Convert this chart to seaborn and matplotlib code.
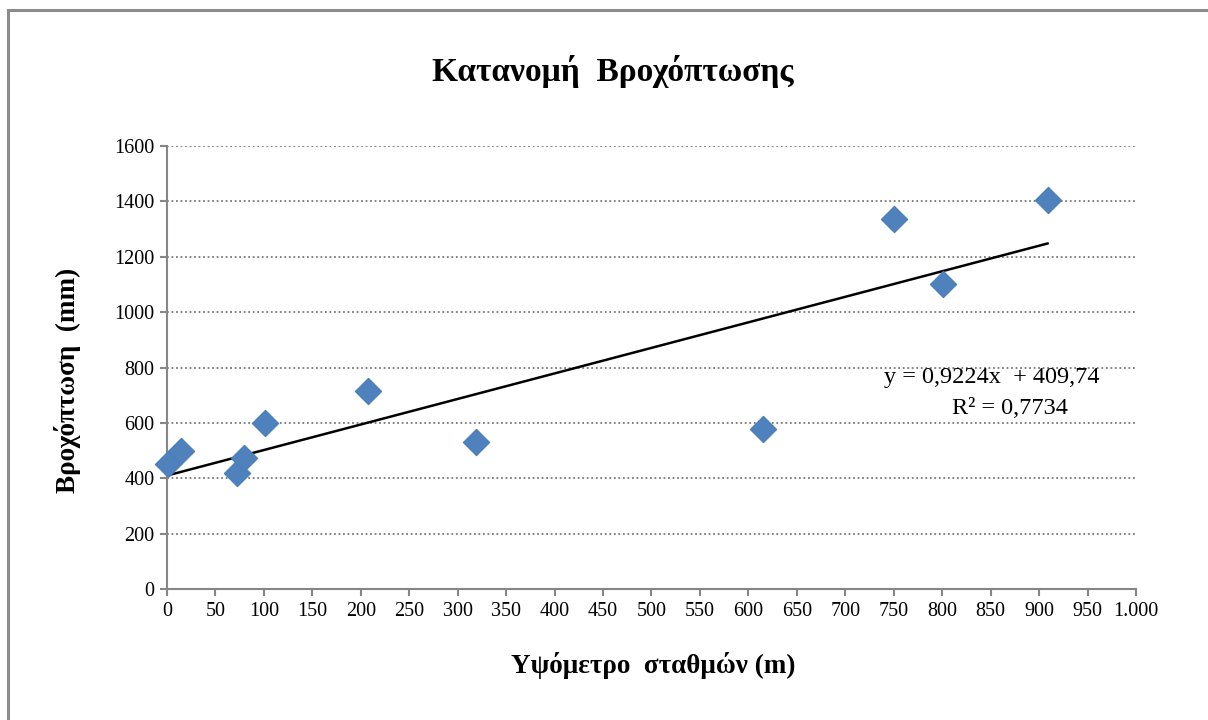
import numpy as np
import pandas as pd
import matplotlib
matplotlib.use("Agg")
import matplotlib.pyplot as plt
import matplotlib.ticker as mticker
from matplotlib.patches import Rectangle
import seaborn as sns

# station altitude (m) and rainfall (mm)
altitude = [1, 15, 72, 80, 101, 207, 319, 615, 750, 801, 909]
rainfall = [452, 500, 420, 475, 600, 715, 532, 578, 1336, 1102, 1404]

# Excel linear trendline
slope = 0.9224
intercept = 409.74
r_squared = 0.7734

df = pd.DataFrame({"altitude": altitude, "rainfall": rainfall})
trend_x = np.array([0, max(altitude)])
trend = pd.DataFrame({"x": trend_x, "y": slope * trend_x + intercept})

sns.set_theme(style="white")
plt.rcParams["font.family"] = ["Liberation Serif", "DejaVu Serif"]
plt.rcParams["text.color"] = "black"

fig = plt.figure(figsize=(12.08, 7.2), dpi=100)
ax = fig.add_axes([0.1382, 0.1819, 0.8022, 0.6153])

# outer chart border (only top/left visible in the original)
fig.patches.append(Rectangle((8 / 1208, -0.05), 1.2, 1 - 10 / 720 + 0.05,
                             transform=fig.transFigure, fill=False,
                             edgecolor="#8c8c8c", linewidth=2.2, zorder=0))

gray = "#868686"
sns.lineplot(data=trend, x="x", y="y", color="black", linewidth=1.8, ax=ax, zorder=2)
sns.scatterplot(data=df, x="altitude", y="rainfall", marker="D", s=180,
                color="#4F81BD", edgecolor="#4A7EBB", linewidth=0.8, ax=ax,
                zorder=3, clip_on=False)

ax.set_xlim(0, 1000)
ax.set_ylim(0, 1600)
ax.set_xticks(np.arange(0, 1001, 50))
ax.set_yticks(np.arange(0, 1601, 200))
ax.xaxis.set_major_formatter(mticker.FuncFormatter(lambda v, p: f"{int(v):,}".replace(",", ".")))

ax.yaxis.grid(True, linestyle=(0, (1, 1.5)), color="#7a7a7a", linewidth=1.3)
ax.xaxis.grid(False)
for side in ["top", "right"]:
    ax.spines[side].set_visible(False)
for side in ["left", "bottom"]:
    ax.spines[side].set_color(gray)
    ax.spines[side].set_linewidth(1.5)
ax.tick_params(axis="both", which="major", direction="out", length=5, width=1.5,
               color=gray, labelsize=14.5, labelcolor="black", pad=4,
               bottom=True, left=True)

ax.set_xlabel("")
ax.set_ylabel("")
fig.text(0.507, 0.90, "Κατανομή  Βροχόπτωσης", ha="center", va="center",
         fontsize=24, fontweight="bold")
fig.text(0.541, 0.076, "Υψόμετρο  σταθμών (m)", ha="center", va="center",
         fontsize=19.5, fontweight="bold")
fig.text(0.056, 0.472, "Βροχόπτωση  (mm)", ha="center", va="center",
         fontsize=19.5, fontweight="bold", rotation=90)

ax.text(0.962, 0.477, f"y = {slope:.4f}x  + {intercept:.2f}".replace(".", ","),
        transform=ax.transAxes, ha="right", va="center", fontsize=17.5)
ax.text(0.93, 0.408, f"R² = {r_squared:.4f}".replace(".", ","),
        transform=ax.transAxes, ha="right", va="center", fontsize=17.5)

fig.savefig("out.png", dpi=100)
plt.close(fig)
